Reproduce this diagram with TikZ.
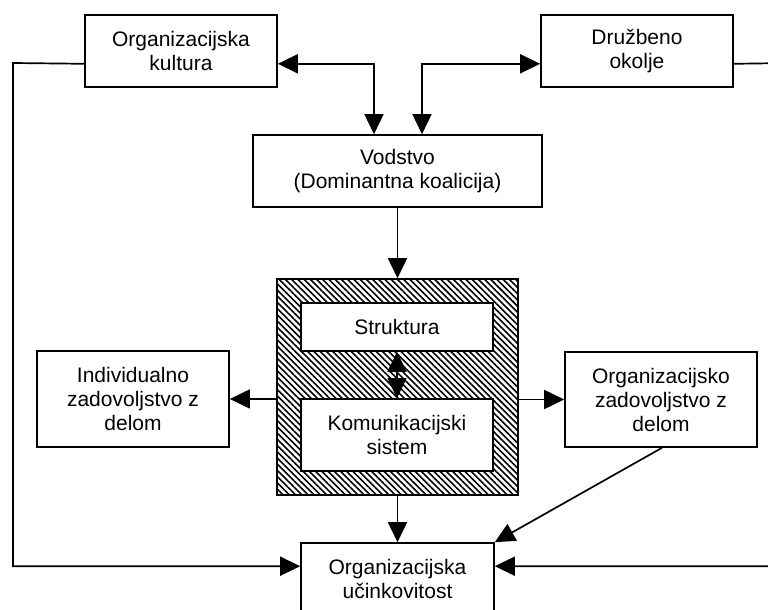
\documentclass[tikz,border=0pt]{standalone}
\usepackage{fontspec}
\setmainfont{Liberation Sans}
\usetikzlibrary{arrows.meta,patterns.meta,calc}
\begin{document}
\begin{tikzpicture}[x=0.5pt,y=-0.5pt,
  box/.style={draw,line width=0.8pt,fill=white,align=center,inner sep=0pt,
    font=\fontsize{10.5}{12}\selectfont},
  hatchbox/.style={draw,line width=0.8pt,inner sep=0pt,
    pattern={Lines[angle=-45,distance=2.2pt,line width=0.8pt]}},
  conn/.style={line width=0.85pt,-{Triangle[length=10pt,width=9.5pt]}},
  biconn/.style={line width=0.85pt,{Triangle[length=10pt,width=9.5pt]}-{Triangle[length=10pt,width=9.5pt]}},
  plain/.style={line width=0.85pt}]
\useasboundingbox (0,0) rectangle (768,610);
\fill[white] (0,0) rectangle (768,610);
% top boxes
\node[box,minimum width=96pt,minimum height=36pt] (kult) at (181,51) {Organizacijska\\kultura};
\node[box,minimum width=96pt,minimum height=36pt] (drz) at (637,51) {Družbeno\\okolje};
\node[box,minimum width=144.5pt,minimum height=36pt] (vod) at (397.5,171) {Vodstvo\\(Dominantna koalicija)};
% hatched block
\node[hatchbox,minimum width=120.5pt,minimum height=108pt] (hb) at (397.5,387) {};
\node[box,minimum width=96pt,minimum height=24pt] (strk) at (397,327) {Struktura};
\node[box,minimum width=96pt,minimum height=36pt] (kom) at (397,435) {Komunikacijski\\sistem};
% side boxes
\node[box,minimum width=96pt,minimum height=48pt] (ind) at (133,399) {Individualno\\zadovoljstvo z\\delom};
\node[box,minimum width=96pt,minimum height=47.5pt] (ozad) at (661,399.5) {Organizacijsko\\zadovoljstvo z\\delom};
% bottom box
\node[box,minimum width=96.5pt,minimum height=36pt] (uc) at (397.5,579) {Organizacijska\\učinkovitost};
% helper coordinates
\coordinate (kE) at ($(kult.south east)+(0,-24)$);
\coordinate (kW) at ($(kult.south west)+(0,-24)$);
\coordinate (dW) at ($(drz.south west)+(0,-24)$);
\coordinate (dE) at ($(drz.south east)+(0,-24)$);
\coordinate (vL) at ($(vod.north)+(-23.5,0)$);
\coordinate (vR) at ($(vod.north)+(24.5,0)$);
\coordinate (lc) at (13,63);
\coordinate (rc) at (790,63);
\coordinate (uW) at ($(uc.north west)+(0,24)$);
\coordinate (uE) at ($(uc.north east)+(0,24)$);
% connectors
\draw[biconn] (kE) -| (vL);
\draw[biconn] (dW) -| (vR);
\draw[conn] (vod.south) -- (hb.north);
\draw[biconn] (strk.south) -- (kom.north);
\draw[conn] (hb.west |- ind.east) -- (ind.east);
\draw[conn] (hb.east |- ozad.west) -- (ozad.west);
\draw[conn] (hb.south) -- (uc.north);
\draw[conn] ($(ozad.south)+(1,0)$) -- (uc.north east);
\draw[conn] (kW) -- (lc) |- (uW);
\draw[conn] (dE) -- (rc) |- (uE);
\end{tikzpicture}
\end{document}
